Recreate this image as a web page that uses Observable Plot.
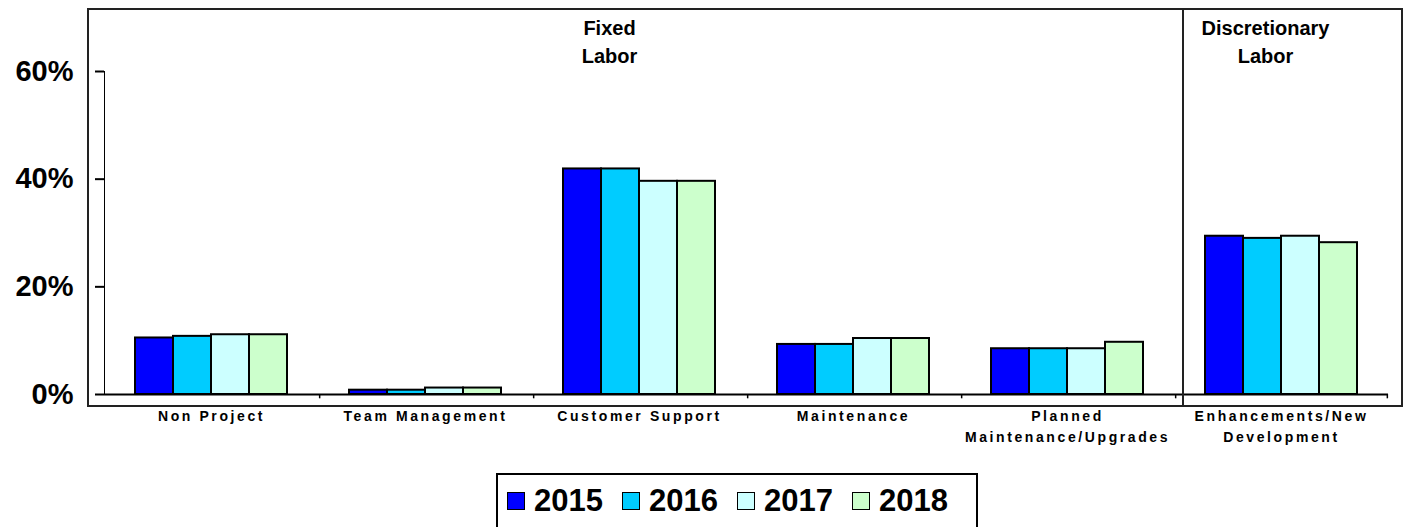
<!DOCTYPE html>
<html>
<head>
<meta charset="utf-8">
<script src="https://cdn.jsdelivr.net/npm/d3@7"></script>
<script src="https://cdn.jsdelivr.net/npm/@observablehq/plot@0.6"></script>
<style>
  body { margin: 0; background: #fff; font-family: "Liberation Sans", Arial, sans-serif; }
  #wrap { position: relative; width: 1408px; height: 527px; overflow: hidden; }
  #box { position: absolute; left: 87px; top: 8px; width: 1312px; height: 395px; border: 2px solid #222; pointer-events: none; }
  #divider { position: absolute; left: 1182px; top: 9px; width: 2px; height: 396px; background: #222; }
  #legend { position: absolute; left: 496px; top: 473px; width: 478px; height: 70px; border: 2px solid #000; box-sizing: content-box; }
  #legend .row { display: flex; align-items: center; height: 36px; margin-top: 8px; padding-left: 9px; }
  #legend .sw { width: 16px; height: 16px; border: 1.5px solid #000; margin-right: 9px; flex: none; }
  #legend .lb { font-weight: bold; font-size: 31px; margin-right: 19px; color: #000; line-height: 36px; }
  svg g[aria-label="y-axis tick label"] { font-size: 29px; }
  svg g[aria-label="fx-axis tick label"] { font-size: 14px; letter-spacing: 2.6px; }
  svg g[aria-label^="y-axis"] { stroke-width: 2px; }
</style>
</head>
<body>
<div id="wrap">
  <div id="chart"></div>
  <div id="box"></div>
  <div id="divider"></div>
  <div id="legend"><div class="row" id="legendRow"></div></div>
</div>
<script>
const categories = [
  "Non Project",
  "Team Management",
  "Customer Support",
  "Maintenance",
  "Planned Maintenance/Upgrades",
  "Enhancements/New Development"
];
const categoryLabels = [
  "Non Project",
  "Team Management",
  "Customer Support",
  "Maintenance",
  "Planned\nMaintenance/Upgrades",
  "Enhancements/New\nDevelopment"
];
const years = ["2015", "2016", "2017", "2018"];
const v2015 = [10.5, 0.8, 41.9, 9.3, 8.5, 29.4];
const v2016 = [10.8, 0.8, 41.9, 9.3, 8.5, 29.0];
const v2017 = [11.1, 1.2, 39.6, 10.4, 8.5, 29.4];
const v2018 = [11.1, 1.2, 39.6, 10.4, 9.7, 28.2];
const yTicks = [0, 20, 40, 60];
const colors = ["#0000ff", "#00ccff", "#ccffff", "#ccffcc"];
const groupLabels = ["Fixed\nLabor", "Discretionary\nLabor"];

const series = [v2015, v2016, v2017, v2018];
const data = categories.flatMap((c, i) => years.map((y, j) => ({category: c, year: y, value: series[j][i]})));

const xPadOuter = 0.76;
const barStep = 214 / (years.length + 2 * xPadOuter);

const plot = Plot.plot({
  width: 1408,
  height: 445,
  marginLeft: 104,
  marginRight: 20,
  marginTop: 71,
  marginBottom: 51,
  style: {fontFamily: '"Liberation Sans", Arial, sans-serif', fontWeight: "bold", color: "#000", background: "transparent", overflow: "visible"},
  fx: {domain: categories, padding: 0, label: null},
  x: {domain: years, paddingInner: 0, paddingOuter: xPadOuter, axis: null},
  y: {domain: [0, 60], ticks: yTicks, tickFormat: d => d + "%", tickSize: 9, tickPadding: 22, line: true, label: null},
  color: {domain: years, range: colors},
  marks: [
    Plot.axisFx({anchor: "bottom", label: null, tickSize: 0, tickPadding: 12, lineHeight: 1.5,
      tickFormat: d => categoryLabels[categories.indexOf(d)]}),
    Plot.barY(data, {fx: "category", x: "year", y: "value", fill: "year", stroke: "#000", strokeWidth: 2}),
    Plot.ruleY([0], {stroke: "#000", strokeWidth: 2}),
    Plot.ruleX(categories.slice(1).map(c => ({category: c})),
      {fx: "category", x: () => years[0], y1: 0, y2: -0.8, dx: -(xPadOuter + 0.5) * barStep, stroke: "#000", strokeWidth: 1.5}),
    Plot.ruleX([{category: categories[5]}],
      {fx: "category", x: () => years[3], y1: 0, y2: -0.8, dx: (xPadOuter + 0.5) * barStep, stroke: "#000", strokeWidth: 1.5}),
    Plot.text([{category: categories[2], label: groupLabels[0]}],
      {fx: "category", text: "label", frameAnchor: "top", lineAnchor: "top", dy: -56, dx: -30, fontSize: 20, fontWeight: "bold", lineHeight: 1.4, fill: "#000"}),
    Plot.text([{category: categories[5], label: groupLabels[1]}],
      {fx: "category", text: "label", frameAnchor: "top", lineAnchor: "top", dy: -56, dx: -16, fontSize: 20, fontWeight: "bold", lineHeight: 1.4, fill: "#000", style: "letter-spacing:0.6px"})
  ]
});
document.getElementById("chart").appendChild(plot);

const row = document.getElementById("legendRow");
years.forEach((y, i) => {
  const sw = document.createElement("span");
  sw.className = "sw";
  sw.style.background = colors[i];
  const lb = document.createElement("span");
  lb.className = "lb";
  lb.textContent = y;
  row.appendChild(sw);
  row.appendChild(lb);
});
</script>
</body>
</html>
